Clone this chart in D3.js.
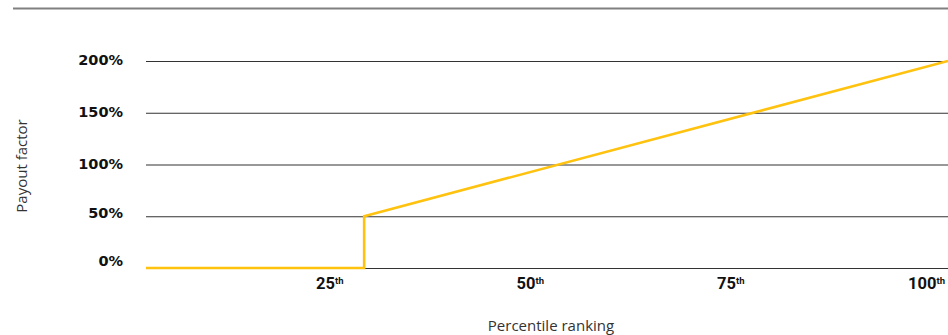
<!DOCTYPE html>
<html>
<head>
<meta charset="utf-8">
<script src="https://cdn.jsdelivr.net/npm/d3@7"></script>
<style>
  body { margin: 0; background: #fff; }
  svg { display: block; }
</style>
</head>
<body>
<script>
// Data
const yTicks = [0, 50, 100, 150, 200];
const xTicks = [25, 50, 75, 100];
const xTickLabels = ["25", "50", "75", "100"];
const percentile = [0, 27.2, 27.2, 100];
const payout = [0, 0, 50, 200];

const W = 948, H = 335;

const svg = d3.select("body").append("svg")
  .attr("width", W)
  .attr("height", H);

// scales
const x = d3.scaleLinear().domain([0, 100]).range([146, 948]);
const y = d3.scaleLinear().domain([0, 200]).range([268, 61]);

// top rule
svg.append("line")
  .attr("x1", 13).attr("x2", W)
  .attr("y1", 8.5).attr("y2", 8.5)
  .attr("stroke", "#808080")
  .attr("stroke-width", 2);

// grid lines + y labels
const yAxis = svg.append("g")
  .attr("transform", "translate(146,0)")
  .call(d3.axisLeft(y).tickValues(yTicks).tickSize(-(W - 146)).tickPadding(23)
    .tickFormat(d => d + "%"));
yAxis.select(".domain").remove();
yAxis.selectAll(".tick line")
  .attr("stroke", "#333")
  .attr("stroke-width", 1.2);
// labels sit a bit above the lower grid lines in the original
yAxis.selectAll(".tick text")
  .attr("font-family", "DejaVu Sans")
  .attr("font-weight", "bold")
  .attr("font-size", "14.5px")
  .attr("fill", "#111")
  .attr("y", d => d === 0 ? -7 : d === 50 ? -3 : -1);

// x labels with superscript "th"
const xl = svg.append("g")
  .selectAll("text")
  .data(xTicks)
  .enter()
  .append("text")
    .attr("x", d => x(d) - 3)
    .attr("y", 289)
    .attr("text-anchor", "end")
    .attr("font-family", "Roboto")
    .attr("font-weight", "bold")
    .attr("font-size", "16.5px")
    .attr("fill", "#111");
xl.append("tspan").text((d, i) => xTickLabels[i]);
xl.append("tspan").text("th")
  .attr("font-size", "9.5px")
  .attr("dy", -5);

// payout line
const pts = percentile.map((p, i) => [p, payout[i]]);
svg.append("path")
  .datum(pts)
  .attr("fill", "none")
  .attr("stroke", "#ffc20e")
  .attr("stroke-width", 2.6)
  .attr("d", d3.line()
    .x(d => x(d[0]))
    .y(d => y(d[1])));

// axis titles
svg.append("text")
  .attr("x", 551)
  .attr("y", 331)
  .attr("text-anchor", "middle")
  .attr("font-family", "Open Sans")
  .attr("font-size", "15px")
  .attr("fill", "#333")
  .text("Percentile ranking");

svg.append("text")
  .attr("transform", "translate(27,166) rotate(-90)")
  .attr("text-anchor", "middle")
  .attr("font-family", "Open Sans")
  .attr("font-size", "15px")
  .attr("fill", "#333")
  .text("Payout factor");
</script>
</body>
</html>
